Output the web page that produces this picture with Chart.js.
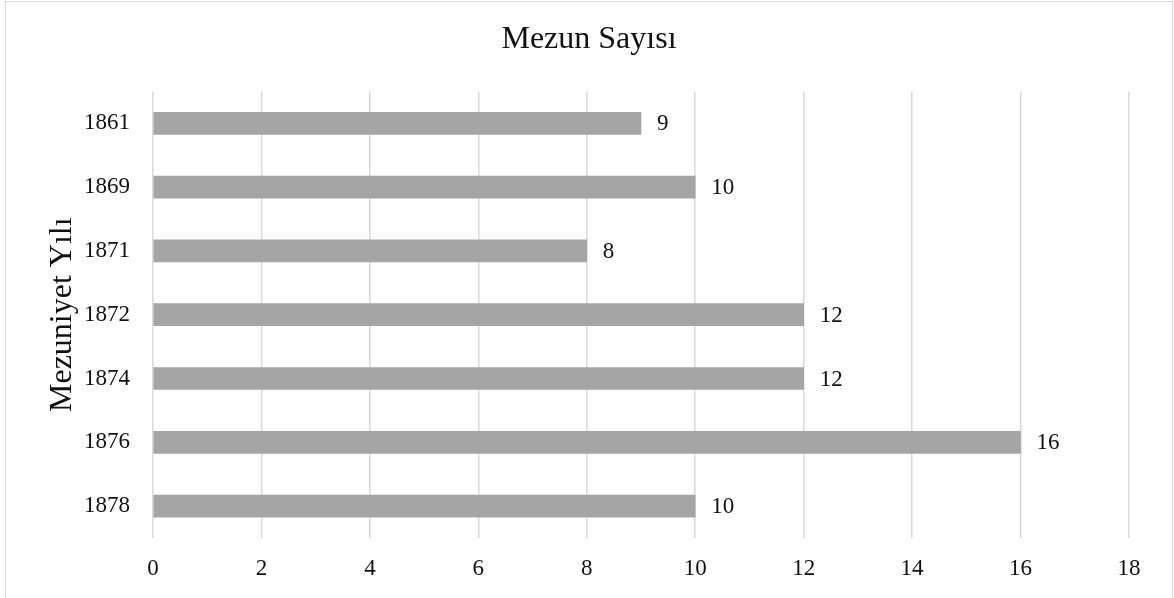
<!DOCTYPE html>
<html>
<head>
<meta charset="utf-8">
<script src="https://cdn.jsdelivr.net/npm/chart.js@4"></script>
<style>
    html, body { margin: 0; padding: 0; background: #fff; }
    .frame {
        position: absolute;
        left: 5px;
        top: 1px;
        width: 1166px;
        height: 600px;
        border: 1px solid #d9d9d9;
        background: #fff;
    }
    .frame canvas { display: block; }
</style>
</head>
<body>
<div class="frame">
    <canvas id="mezunChart" width="1166" height="596"></canvas>
</div>
<script>
// Veriler
const years = ['1861', '1869', '1871', '1872', '1874', '1876', '1878'];
const graduates = [9, 10, 8, 12, 12, 16, 10];
const xTicks = [0, 2, 4, 6, 8, 10, 12, 14, 16, 18];

const FONT = "'Liberation Serif', 'Times New Roman', serif";
const TEXT = '#111111';

// Çubuk sonuna değer etiketleri
const valueLabels = {
    id: 'valueLabels',
    afterDatasetsDraw(chart) {
        const ctx = chart.ctx;
        const meta = chart.getDatasetMeta(0);
        ctx.save();
        ctx.font = `23px ${FONT}`;
        ctx.fillStyle = TEXT;
        ctx.textAlign = 'left';
        ctx.textBaseline = 'middle';
        meta.data.forEach((bar, i) => {
            ctx.fillText(String(graduates[i]), bar.x + 16, bar.y + 1);
        });
        ctx.restore();
    }
};

new Chart(document.getElementById('mezunChart'), {
    type: 'bar',
    data: {
        labels: years,
        datasets: [{
            label: 'Mezun Sayısı',
            data: graduates,
            backgroundColor: '#a5a5a5',
            borderWidth: 0,
            barThickness: 22
        }]
    },
    options: {
        indexAxis: 'y',
        responsive: false,
        animation: false,
        // sol/sağ eşit boşluk: başlık ortada kalsın
        layout: { padding: { left: 43, right: 43, top: 0, bottom: 0 } },
        plugins: {
            legend: { display: false },
            tooltip: { enabled: false },
            title: {
                display: true,
                text: 'Mezun Sayısı',
                color: TEXT,
                font: { family: FONT, size: 32, weight: 'normal', lineHeight: 1.2 },
                padding: { top: 18, bottom: 33 }
            }
        },
        scales: {
            x: {
                min: 0,
                max: 18,
                afterBuildTicks: axis => { axis.ticks = xTicks.map(v => ({ value: v })); },
                afterFit: axis => { axis.height = 60; },
                grid: { color: '#d9d9d9', lineWidth: 1.5, drawTicks: false },
                border: { display: false },
                ticks: {
                    color: TEXT,
                    padding: 17,
                    font: { family: FONT, size: 23 }
                }
            },
            y: {
                afterFit: axis => { axis.width = 104; },
                grid: { display: false, drawTicks: false },
                border: { display: false },
                ticks: {
                    color: TEXT,
                    padding: 23,
                    font: { family: FONT, size: 23 }
                },
                title: {
                    display: true,
                    text: 'Mezuniyet Yılı',
                    color: TEXT,
                    font: { family: FONT, size: 32, lineHeight: 1.2 },
                    padding: { top: -6, bottom: 0 }
                }
            }
        }
    },
    plugins: [valueLabels]
});
</script>
</body>
</html>
